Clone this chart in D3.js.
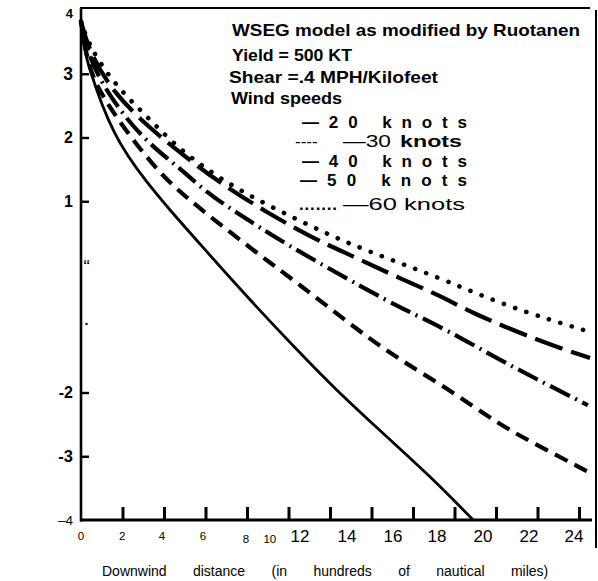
<!DOCTYPE html>
<html><head><meta charset="utf-8">
<script src="https://cdn.jsdelivr.net/npm/d3@7"></script>
<style>body{margin:0;background:#fff}svg{display:block}text{fill:#000}</style>
</head><body><svg id="c" width="598" height="581"></svg>
<script>
// ---- data ----
const xTickValues = [0,2,4,6,8,10,12,14,16,18,20,22,24];
const xTickLabels = ["0","2","4","6","8","10","12","14","16","18","20","22","24"];
const yTickValues = [4,3,2,1,0,-1,-2,-3,-4];
const yTickLabels = ["4","3","2","1","“",".","-2","-3","–4"];
const seriesNames = ["20 knots","30 knots","40 knots","50 knots","60 knots"];
const knots20 = [[0,3.82],[0.1,3.5],[0.29,3.17],[1.54,2.01],[3.18,1.29],[4.29,0.86],[5.73,0.33],[8.14,-0.55],[10.55,-1.38],[12.14,-1.91],[14.55,-2.64],[16.92,-3.34],[18.9,-4.0]];
const knots30 = [[0,3.82],[0.2,3.4],[0.58,2.85],[2.36,2.01],[3.95,1.38],[5.4,0.97],[8.14,0.27],[10.55,-0.31],[13.45,-1.05],[15.37,-1.49],[17.78,-1.96],[20.05,-2.48],[21.78,-2.79],[24.53,-3.26]];
const knots40 = [[0,3.82],[0.3,3.35],[1.06,2.79],[2.84,2.01],[4.77,1.52],[6.07,1.13],[7.33,0.86],[9.73,0.35],[13.78,-0.39],[15.52,-0.69],[17.64,-1.02],[20.19,-1.49],[21.78,-1.76],[24.43,-2.2]];
const knots50 = [[0,3.82],[0.4,3.35],[1.54,2.7],[3.47,2.1],[5.11,1.68],[6.55,1.32],[8.96,0.82],[11.37,0.39],[12.96,0.16],[15.23,-0.19],[17.64,-0.53],[18.6,-0.72],[21.98,-1.18],[24.53,-1.46]];
const knots60 = [[0,3.82],[0.45,3.4],[1.54,2.87],[2.7,2.48],[3.71,2.15],[4.92,1.77],[6.8,1.33],[8.96,0.94],[11.66,0.52],[12.96,0.33],[15.37,0.03],[17.64,-0.25],[20.19,-0.6],[22.6,-0.86],[24.53,-1.05]];
const titleLines = ["WSEG model as modified by Ruotanen","Yield = 500 KT","Shear =.4 MPH/Kilofeet","Wind speeds"];
const xTitle = "Downwind distance (in hundreds of nautical miles)";

// ---- layout / style ----
const svg = d3.select("#c");
const x = d3.scaleLinear().domain([0,24]).range([81,579]);
const y = d3.scaleLinear().domain([-4,4]).range([520,10]);
// where the printed x labels sit (in data units) – they drift from ticks in the original
const xLabelAt = [0,1.98,3.9,5.88,7.95,9.1,10.55,12.82,15.04,17.16,19.37,21.59,23.76];
const xLabelSize = [11.5,11.5,11.5,11.5,11.5,11.5,17,17,17,17,17,17,17];
const xLabelBase = [540,540,540,540,543,543,542,542,542,542,542,542,542];
const yLabelSize = [13,17.5,16,16,19,14,16,16.5,13.5];
const yLabelWeight = ["bold","bold","bold","bold","normal","bold","bold","bold","normal"];
const font = "'Liberation Sans', Arial, Helvetica, sans-serif";

const styles = [
  {dash:null, w:2.8, cap:"butt"},
  {dash:"14 8", w:4.2, cap:"butt"},
  {dash:"22 6 2 6", w:4.2, cap:"butt"},
  {dash:"29 9", w:4.2, cap:"butt"},
  {dash:"0.1 11.8", w:4.6, cap:"round"}
];
const series = [knots20,knots30,knots40,knots50,knots60];

// frame
svg.append("line").attr("x1",81).attr("x2",81).attr("y1",y(4)-2).attr("y2",y(-4)+1.5).attr("stroke","#000").attr("stroke-width",2.6);
svg.append("line").attr("x1",80).attr("x2",590).attr("y1",8).attr("y2",8).attr("stroke","#000").attr("stroke-width",2);
svg.append("line").attr("x1",596).attr("x2",596).attr("y1",10).attr("y2",548).attr("stroke","#000").attr("stroke-width",2);
svg.append("line").attr("x1",80).attr("x2",592).attr("y1",y(-4)).attr("y2",y(-4)).attr("stroke","#000").attr("stroke-width",3);

// x ticks (upward)
const gx = svg.append("g").attr("transform",`translate(0,${y(-4)})`)
  .call(d3.axisBottom(x).tickValues(xTickValues.slice(1)).tickSize(-13).tickFormat(""));
gx.select(".domain").remove();
gx.selectAll(".tick line").attr("stroke","#000").attr("stroke-width",3);

// x labels
svg.append("g").selectAll("text").data(xTickLabels).join("text")
  .attr("x",(d,i)=>x(xLabelAt[i])).attr("y",(d,i)=>xLabelBase[i])
  .attr("text-anchor","middle").attr("font-family",font)
  .attr("font-size",(d,i)=>xLabelSize[i]).text(d=>d);

// y ticks (inward)
const tickVals = yTickValues.filter(v=>[3,2,1,-2,-3].includes(v));
const gy = svg.append("g").attr("transform","translate(82,0)")
  .call(d3.axisRight(y).tickValues(tickVals).tickSize(7).tickFormat(""));
gy.select(".domain").remove();
gy.selectAll(".tick line").attr("stroke","#000").attr("stroke-width",2.4);

// y labels
svg.append("g").selectAll("text").data(yTickLabels).join("text")
  .attr("x",(d,i)=> (yTickValues[i]===0 ? 83.5 : yTickValues[i]===-1 ? 84.5 : 73))
  .attr("y",(d,i)=> yTickValues[i]===0 ? y(0)+8 : yTickValues[i]===-1 ? y(-1)-4 : y(yTickValues[i]) + (yTickValues[i]===4 ? 3 : 0))
  .attr("dy",(d,i)=> (yTickValues[i]===0||yTickValues[i]===-1) ? 0 : "0.36em")
  .attr("text-anchor",(d,i)=> (yTickValues[i]===0||yTickValues[i]===-1) ? "start" : "end")
  .attr("font-family",font).attr("font-weight",(d,i)=>yLabelWeight[i])
  .attr("font-size",(d,i)=>yLabelSize[i]).text(d=>d);

// curves
const line = d3.line().x(d=>x(d[0])).y(d=>y(d[1])).curve(d3.curveBasis);
svg.append("g").selectAll("path").data(series).join("path")
  .attr("d",line).attr("fill","none").attr("stroke","#000")
  .attr("stroke-width",(d,i)=>styles[i].w)
  .attr("stroke-dasharray",(d,i)=>styles[i].dash)
  .attr("stroke-linecap",(d,i)=>styles[i].cap);

// legend / title block
const tl = [{x:232,y:36,len:348},{x:232,y:61,len:120},{x:229,y:83,len:209},{x:231,y:104,len:111}];
svg.append("g").selectAll("text").data(titleLines).join("text")
  .attr("x",(d,i)=>tl[i].x).attr("y",(d,i)=>tl[i].y)
  .attr("font-family",font).attr("font-weight","bold").attr("font-size",17)
  .attr("textLength",(d,i)=>tl[i].len).attr("lengthAdjust","spacingAndGlyphs").text(d=>d);

const lg = svg.append("g").attr("font-family",font).attr("font-size",17);
function spaced(xp, yp, len, str){
  lg.append("text").attr("x",xp).attr("y",yp).attr("textLength",len).attr("lengthAdjust","spacing")
    .attr("font-weight","bold").text(str);
}
spaced(302,128,165,"—"+seriesNames[0].replace(" ","  "));
spaced(302,167,165,"—"+seriesNames[2].replace(" ","  "));
spaced(300,186,167,"—"+seriesNames[3].replace(" ","  "));
// 30 knots row
const r30 = lg.append("text").attr("y",147);
r30.append("tspan").attr("x",295).text("----");
r30.append("tspan").attr("x",343).attr("textLength",48).attr("lengthAdjust","spacingAndGlyphs").text("—"+seriesNames[1].split(" ")[0]);
r30.append("tspan").attr("x",400).attr("font-weight","bold").attr("textLength",62).attr("lengthAdjust","spacingAndGlyphs").text(seriesNames[1].split(" ")[1]);
// 60 knots row
const r60 = lg.append("text").attr("y",210);
r60.append("tspan").attr("x",299).attr("font-weight","bold").attr("textLength",38).attr("lengthAdjust","spacing").text(".......");
r60.append("tspan").attr("x",343).attr("textLength",122).attr("lengthAdjust","spacingAndGlyphs").text("—"+seriesNames[4]);

// x title
svg.append("text").attr("x",102).attr("y",576).attr("font-family",font).attr("font-size",14)
  .attr("word-spacing","22.5px").text(xTitle);
</script></body></html>
